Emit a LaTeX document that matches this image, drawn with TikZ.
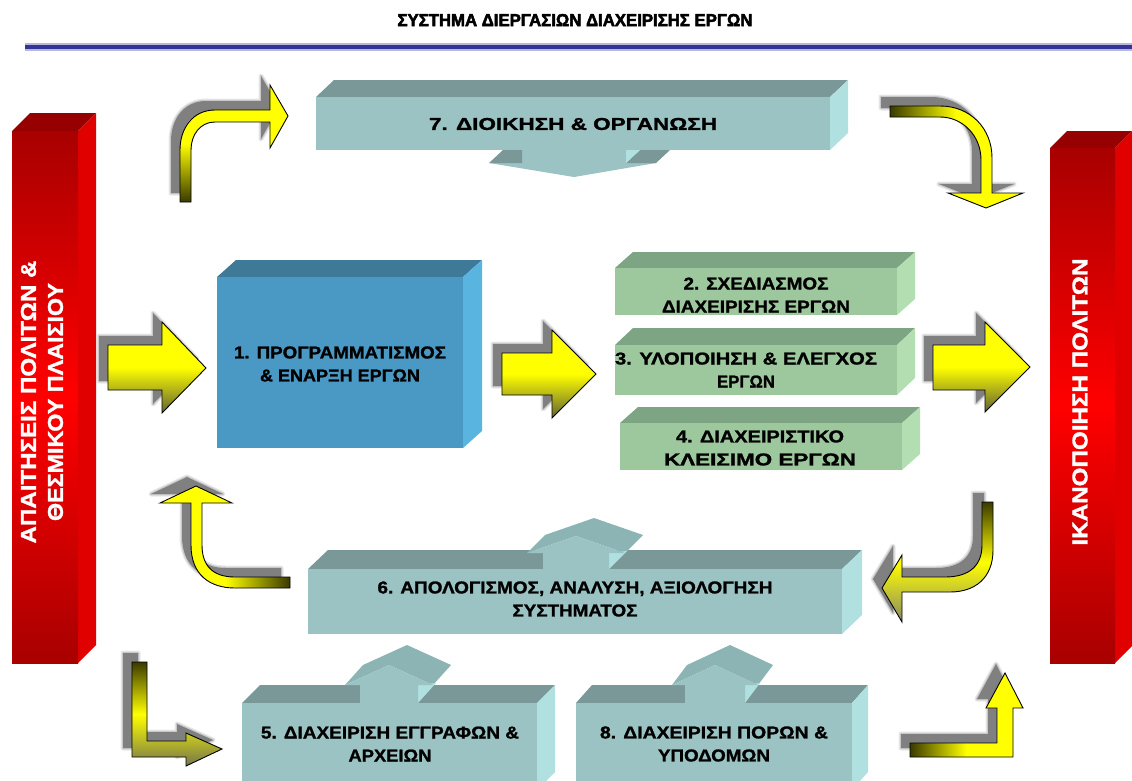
\documentclass[tikz,border=0pt]{standalone}
\usepackage{fontspec}
\setmainfont{Liberation Sans}
\newfontfamily\labelfont{Liberation Sans}[BoldFeatures={FakeBold=1.2}]
\newfontfamily\titlefont{Liberation Sans}[BoldFeatures={FakeBold=3}]
\usetikzlibrary{calc}

% face colours of the blocks
\definecolor{cyfront}{HTML}{9BC3C3}
\definecolor{cytop}{HTML}{7A9898}
\definecolor{cyside}{HTML}{B0E0E0}
\definecolor{cyback}{HTML}{8CB4B4}
\definecolor{blfront}{HTML}{4A98C4}
\definecolor{bltop}{HTML}{3E7A98}
\definecolor{blside}{HTML}{5AB4E0}
\definecolor{grfront}{HTML}{9DC79D}
\definecolor{grtop}{HTML}{7DA583}
\definecolor{grside}{HTML}{B2DEB2}
\definecolor{rddark}{HTML}{A80000}
\definecolor{rdmid}{HTML}{FF0000}
\definecolor{rdtop}{HTML}{960000}
\definecolor{rdside}{HTML}{E00000}
\definecolor{ylw}{HTML}{FFFF00}
\definecolor{olive}{HTML}{3A3A00}
\definecolor{shadowgray}{HTML}{808080}
\definecolor{ruleblue}{HTML}{333399}

% one line of text stretched to a given width and cap height
\newcommand\fitline[3][12]{\resizebox{#2pt}{#1pt}{#3}}

% 3D block: #1,#2 front top-left, #3,#4 front bottom-right, #5,#6 depth, #7 colour prefix, #8 front fill
\newcommand\blockbox[8]{%
  \fill[#7top] (#1,#2) -- ({#1+#5},{#2+#6}) -- ({#3+#5},{#2+#6}) -- (#3,#2) -- cycle;
  \fill[#7side] (#3,#2) -- ({#3+#5},{#2+#6}) -- ({#3+#5},{#4+#6}) -- (#3,#4) -- cycle;
  \path[#8] (#1,#2) rectangle (#3,#4);
}

% block arrow rising from the top of a block:
% #1 centre x, #2 base y, #3 half shaft, #4 half head, #5 shaft height, #6 head height, #7,#8 depth
\newcommand\risearrow[8]{%
  \fill[cyback] ({#1-#4},{#2-#5}) -- ({#1-#4+#7},{#2-#5+#8}) -- ({#1+#7},{#2-#5-#6+#8})
     -- ({#1+#4+#7},{#2-#5+#8}) -- ({#1+#4},{#2-#5}) -- (#1,{#2-#5-#6}) -- cycle;
  \fill[cyside] ({#1+#3},#2) -- ({#1+#3},{#2-#5}) -- ({#1+#3+#7},{#2+#8}) -- cycle;
  \fill[cyfront] ({#1-#3},#2) -- ({#1-#3},{#2-#5}) -- ({#1-#4},{#2-#5}) -- (#1,{#2-#5-#6})
     -- ({#1+#4},{#2-#5}) -- ({#1+#3},{#2-#5}) -- ({#1+#3},#2) -- cycle;
}

% yellow arrow with its soft grey drop shadow: #1 shading, #2 outline
\newcommand\yarrow[2]{%
  \path[draw=shadowgray, line width=5pt, line join=round, opacity=.18, shift={(-9,-9)}] #2;
  \path[draw=shadowgray, line width=2.5pt, line join=round, opacity=.3, shift={(-9,-9)}] #2;
  \path[fill=shadowgray, shift={(-9,-9)}] #2;
  \path[draw=black, line width=0.9pt, line join=miter, #1] #2;
}

\tikzset{
  lbl/.style={inner sep=0pt, align=center, font=\labelfont\fontsize{16}{23}\selectfont\bfseries},
  vlbl/.style={inner sep=0pt, align=center, text=white, rotate=90,
               font=\labelfont\fontsize{18}{27}\selectfont\bfseries},
}

\begin{document}
\begin{tikzpicture}[x=1pt, y=-1pt]
\useasboundingbox (0,0) rectangle (1132,780);
\clip (0,0) rectangle (1132,780);
\fill[white] (0,0) rectangle (1132,780);

% heading and rule
\node[lbl, font=\titlefont\fontsize{16}{23}\selectfont\bfseries] (title) at (575,20)
  {\fitline{355}{ΣΥΣΤΗΜΑ ΔΙΕΡΓΑΣΙΩΝ ΔΙΑΧΕΙΡΙΣΗΣ ΕΡΓΩΝ}};
\fill[ruleblue!35] (25,43) rectangle (1132,51);
\fill[ruleblue] (25,45) rectangle (1132,49);

% side pillars
\blockbox{12}{131}{78}{663}{18}{-18}{rd}{top color=rddark, bottom color=rddark, middle color=rdmid}
\blockbox{1050}{148}{1115}{663}{17}{-17}{rd}{top color=rddark, bottom color=rddark, middle color=rdmid}
\node[vlbl] (lbar) at (42,402)
  {\fitline[15]{283}{ΑΠΑΙΤΗΣΕΙΣ ΠΟΛΙΤΩΝ \&}\\\fitline[15]{238}{ΘΕΣΜΙΚΟΥ ΠΛΑΙΣΙΟΥ}};
\node[vlbl] (rbar) at (1080,402) {\fitline[15]{287}{ΙΚΑΝΟΠΟΙΗΣΗ ΠΟΛΙΤΩΝ}};

% 7: administration, with its downward arrow
\fill[cyfront] (522,140) -- (626,140) -- (626,163) -- (656,163) -- (574,177) -- (489,163) -- (522,163) -- cycle;
\fill[cytop] (489,163) -- (503,150) -- (522,150) -- (522,163) -- cycle;
\fill[cytop] (626,163) -- (656,163) -- (670,150) -- (640,150) -- cycle;
\fill[cyside] (626,150) -- (640,150) -- (626,163) -- cycle;
\blockbox{316}{97}{830}{150}{18}{-17}{cy}{fill=cyfront}
\node[lbl] (n7) at (573,124) {\fitline{288}{7. ΔΙΟΙΚΗΣΗ \& ΟΡΓΑΝΩΣΗ}};

% 1: programming
\blockbox{217}{277}{463}{448}{19}{-17}{bl}{fill=blfront}
\node[lbl] (n1) at (340,364)
  {\fitline{212}{1. ΠΡΟΓΡΑΜΜΑΤΙΣΜΟΣ}\\\fitline{160}{\& ΕΝΑΡΞΗ ΕΡΓΩΝ}};

% 2-4: project stages
\blockbox{615}{268}{897}{315}{18}{-16}{gr}{fill=grfront}
\node[lbl] (n2) at (756,295)
  {\fitline{145}{2. ΣΧΕΔΙΑΣΜΟΣ}\\\fitline{188}{ΔΙΑΧΕΙΡΙΣΗΣ ΕΡΓΩΝ}};
\blockbox{615}{345}{897}{395}{18}{-17}{gr}{fill=grfront}
\node[lbl] (n3) at (746,370)
  {\fitline{262}{3. ΥΛΟΠΟΙΗΣΗ \& ΕΛΕΓΧΟΣ}\\\fitline{58}{ΕΡΓΩΝ}};
\blockbox{620}{423}{902}{470}{18}{-16}{gr}{fill=grfront}
\node[lbl] (n4) at (760,448)
  {\fitline{168}{4. ΔΙΑΧΕΙΡΙΣΤΙΚΟ}\\\fitline{192}{ΚΛΕΙΣΙΜΟ ΕΡΓΩΝ}};

% 6: review
\blockbox{308}{569}{842}{634}{20}{-19}{cy}{fill=cyfront}
\risearrow{576}{569}{33}{49}{16}{17}{18}{-18}
\node[lbl] (n6) at (575,599)
  {\fitline{395}{6. ΑΠΟΛΟΓΙΣΜΟΣ, ΑΝΑΛΥΣΗ, ΑΞΙΟΛΟΓΗΣΗ}\\\fitline{125}{ΣΥΣΤΗΜΑΤΟΣ}};

% 5 and 8: support processes
\blockbox{242}{703}{537}{790}{18}{-18}{cy}{fill=cyfront}
\risearrow{389}{703}{29}{44}{18}{20}{18}{-20}
\node[lbl] (n5) at (390,744)
  {\fitline{258}{5. ΔΙΑΧΕΙΡΙΣΗ ΕΓΓΡΑΦΩΝ \&}\\\fitline{83}{ΑΡΧΕΙΩΝ}};
\blockbox{576}{703}{852}{790}{16}{-18}{cy}{fill=cyfront}
\risearrow{715}{703}{30}{43}{18}{20}{15}{-20}
\node[lbl] (n8) at (714,744)
  {\fitline{228}{8. ΔΙΑΧΕΙΡΙΣΗ ΠΟΡΩΝ \&}\\\fitline{112}{ΥΠΟΔΟΜΩΝ}};

% straight flow arrows
\yarrow{top color=ylw, bottom color=olive!80, middle color=ylw}
  {(108,345) -- (162,345) -- (162,322) -- (206,368) -- (162,413) -- (162,390) -- (108,390) -- cycle}
\yarrow{top color=ylw, bottom color=olive!80, middle color=ylw}
  {(502,353) -- (552,353) -- (552,330) -- (596,374) -- (552,418) -- (552,395) -- (502,395) -- cycle}
\yarrow{top color=ylw, bottom color=olive!80, middle color=ylw}
  {(933,345) -- (985,345) -- (985,322) -- (1030,367) -- (985,412) -- (985,390) -- (933,390) -- cycle}

% bent arrows round the cycle
\yarrow{top color=ylw, bottom color=olive, middle color=ylw}
  {(180,202) -- (180,150) .. controls (180,128) and (193,110) .. (215,110) -- (270,110) -- (270,85)
   -- (288,116) -- (270,148) -- (270,122) -- (215,122) .. controls (200,122) and (191,135) .. (191,150)
   -- (191,202) -- cycle}
\yarrow{left color=olive, right color=ylw, middle color=ylw}
  {(890,106) -- (940,106) .. controls (970,106) and (992,128) .. (992,158) -- (992,193) -- (1023,193)
   -- (986,208) -- (948,193) -- (981,193) -- (981,160) .. controls (981,135) and (962,117) .. (940,117)
   -- (890,117) -- cycle}
\yarrow{right color=olive, left color=ylw, middle color=ylw}
  {(290,577) -- (235,577) .. controls (212,577) and (202,565) .. (202,545) -- (202,503) -- (232,503)
   -- (196,486) -- (160,503) -- (191,503) -- (191,545) .. controls (191,575) and (210,588) .. (235,588)
   -- (290,588) -- cycle}
\yarrow{top color=olive, bottom color=olive!70, middle color=ylw}
  {(132,662) -- (147,662) -- (147,741) -- (186,741) -- (186,733) -- (222,749) -- (186,766) -- (186,757)
   -- (132,757) -- cycle}
\yarrow{top color=olive, bottom color=olive!60, middle color=ylw}
  {(982,502) -- (993,502) -- (993,550) .. controls (993,578) and (975,592) .. (950,592) -- (902,592)
   -- (902,622) -- (882,588) -- (902,555) -- (902,577) -- (945,577) .. controls (970,577) and (982,565) .. (982,545)
   -- cycle}
\yarrow{left color=olive, right color=ylw, middle color=ylw}
  {(910,743) -- (997,743) -- (997,708) -- (986,708) -- (1005,673) -- (1023,708) -- (1013,708)
   -- (1013,757) -- (910,757) -- cycle}
\end{tikzpicture}
\end{document}
